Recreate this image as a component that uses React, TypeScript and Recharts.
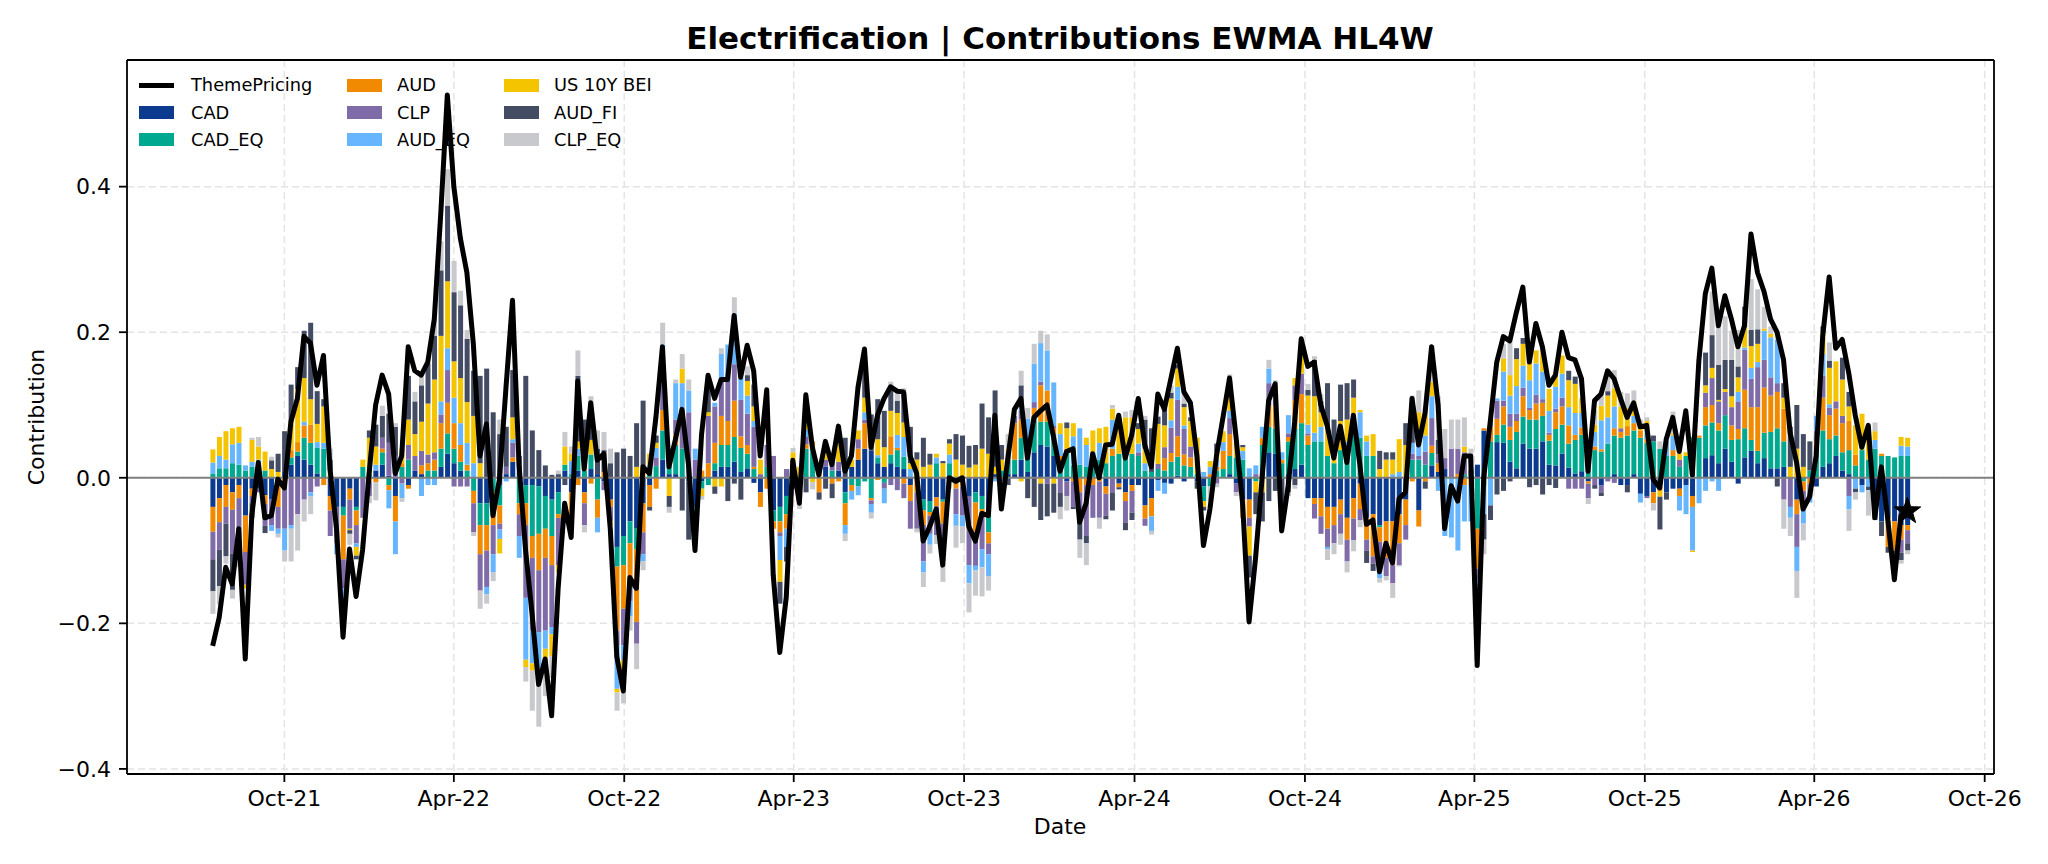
import React from "react";
import {
  ComposedChart,
  Bar,
  Line,
  XAxis,
  YAxis,
  CartesianGrid,
  ReferenceLine,
} from "recharts";

const FONT = '"DejaVu Sans", "Liberation Sans", Arial, sans-serif';
const W = 2048;
const H = 864;

// Weekly observations, first one on 16 Jul 2021
const START = Date.UTC(2021, 6, 16);
const DAY = 86400000;

const themePricing = [
  -.231, -.192, -.123, -.146, -.07, -.249, -.052, .021, -.055, -.052,
  -.002, -.014, .077, .109, .194, .185, .127, .168, .012, -.07,
  -.219, -.098, -.163, -.099, .006, .1, .141, .115, .006, .03,
  .18, .147, .141, .159, .218, .364, .526, .40, .329, .282,
  .183, .03, .074, -.052, -.002, .124, .244, .018, -.099, -.187,
  -.284, -.249, -.327, -.152, -.035, -.082, .133, .012, .103, .024,
  .033, -.07, -.246, -.293, -.137, -.152, .015, .006, .083, .18,
  .015, .053, .094, .018, -.1, .059, .141, .109, .135, .135,
  .223, .138, .182, .147, .03, .121, -.134, -.24, -.164, .024,
  -.035, .114, .042, .004, .05, .018, .071, .009, .03, .124,
  .177, .042, .086, .109, .125, .119, .118, .03, .006, -.087,
  -.067, -.043, -.12, 0, -.005, 0, -.067, -.087, -.049, -.052,
  .086, -.043, .027, .094, .109, .027, .083, .092, .1, .056,
  .009, .036, .04, -.061, -.035, .033, 0, .045, .046, .086,
  .027, .059, .109, .045, .015, .115, .094, .136, .178, .118,
  .103, .03, -.093, -.043, .03, .083, .137, .056, -.035, -.198,
  -.11, 0, .106, .129, -.073, -.011, .077, .191, .153, .159,
  .1, .071, .027, .071, .021, .086, .018, -.064, -.058, -.129,
  -.09, -.117, -.029, -.02, .109, .045, .089, .18, .1, -.07,
  -.011, -.032, .03, .03, -.258, 0, .077, .159, .194, .188,
  .227, .262, .159, .212, .18, .127, .141, .2, .165, .162,
  .136, .009, .106, .115, .147, .136, .109, .083, .103, .07,
  .072, -.002, -.014, .053, .083, .036, .092, .004, .16, .253,
  .288, .209, .25, .218, .18, .209, .335, .282, .256, .218,
  .2, .162, .062, .021, -.043, -.026, .03, .194, .276, .178,
  .19, .144, .086, .042, .072, -.055, .015, -.058, -.14, -.052,
  -.046,
];

const cad = [
  -.04, -.028, -.01, -.02, -.01, -.052, -.015, -.015, -.024, -.03,
  -.01, .008, .018, .03, .025, .018, .006, 0, -.025, -.04,
  -.04, -.015, -.04, 0, 0, .01, .018, .003, -.025, 0,
  -.01, .01, .005, 0, 0, .015, .033, .02, .01, 0,
  0, -.035, -.035, 0, -.01, .005, .022, 0, -.01, -.01,
  -.012, -.025, -.03, -.02, .01, -.02, .01, -.02, .012, .005,
  -.005, -.03, -.095, -.08, -.06, -.07, -.035, -.01, 0, .025,
  .005, .005, 0, -.005, -.04, -.005, 0, .01, .015, .015,
  .022, .008, .013, -.007, -.02, 0, -.045, -.04, -.025, -.005,
  0, 0, 0, 0, .015, 0, .01, -.02, .015, .025,
  .04, .037, .02, .015, .02, .015, .012, -.01, 0, -.03,
  -.032, -.027, -.03, 0, -.005, 0, -.025, -.02, -.025, -.05,
  .005, 0, .005, .005, .025, .008, .035, .045, .043, .03,
  0, -.005, 0, 0, 0, 0, 0, -.012, 0, -.008,
  -.02, -.01, -.01, -.038, -.028, -.003, -.007, -.008, .003, -.005,
  0, -.005, -.012, 0, 0, 0, .005, -.008, -.03, -.03,
  0, 0, .035, .033, 0, .005, .012, .018, -.028, -.028,
  -.028, -.04, -.04, -.03, -.055, -.028, -.008, -.055, -.05, -.065,
  -.06, -.06, -.05, -.03, 0, -.045, 0, .017, .008, .012,
  0, 0, 0, 0, .018, .065, 0, .049, .048, .022,
  .013, .047, .04, .04, .05, .018, .017, .033, .014, .006,
  .009, -.005, 0, -.01, 0, .005, -.01, -.01, .005, -.022,
  -.025, -.02, -.01, -.02, -.015, -.015, -.01, -.025, 0, .027,
  .031, .02, .04, .022, -.008, .028, .037, .02, .027, .013,
  .013, .015, 0, -.03, 0, 0, -.012, .015, .02, .03,
  .01, .005, 0, -.01, 0, -.03, -.06, -.055, -.06, -.065,
  -.065,
];

const cadEq = [
  .006, .013, .013, .02, .018, .01, .015, .01, .01, 0,
  0, 0, .01, .006, .03, .03, .035, .04, 0, 0,
  -.012, 0, -.005, .015, .005, 0, .017, -.01, 0, .015,
  .025, 0, 0, .01, .01, .025, .028, .02, .012, .01,
  -.018, -.03, -.03, -.02, -.028, 0, 0, -.035, -.025, -.07,
  -.065, -.045, -.05, -.03, .008, .005, .02, .01, .02, -.03,
  0, 0, -.027, -.04, -.03, -.028, 0, .01, .016, .04,
  .01, .04, .04, 0, -.02, -.01, -.01, .01, .03, .03,
  .034, .033, .02, .012, 0, .015, -.015, -.02, -.025, 0,
  -.008, .04, .04, 0, 0, .01, 0, -.015, -.01, -.012,
  -.005, -.028, .008, -.007, .012, .023, .017, 0, 0, -.015,
  -.015, .02, -.003, .02, 0, 0, 0, -.014, -.018, -.025,
  0, .01, .02, .02, .03, .023, .048, .032, .034, .03,
  .02, .035, .017, .018, .015, .015, .025, .02, .03, .033,
  .033, .033, .03, .01, .008, .012, .01, .022, .026, .017,
  .015, .005, -.02, -.012, .01, .012, .025, .028, .025, 0,
  -.005, .045, .035, .035, .02, .045, .055, .057, .045, .05,
  .05, .03, .02, .038, .035, .06, .055, .03, .03, -.003,
  0, 0, 0, 0, .025, .025, .018, .017, 0, 0,
  0, 0, .005, 0, -.07, -.01, .05, .01, .025, .03,
  .05, .037, .04, .04, .035, .033, .05, .04, .033, .046,
  .05, .018, .038, .036, .047, .053, .055, .058, .06, .055,
  .048, .05, .04, .03, .03, .015, .03, .056, .055, .045,
  .045, .045, .046, .03, .053, .04, .015, .017, .035, .05,
  .055, .035, 0, 0, -.005, .01, .04, .05, .033, .028,
  .025, .033, .017, .038, .025, .04, .03, .03, .028, .03,
  .03,
];

const aud = [
  -.034, -.033, -.03, -.024, -.018, -.05, -.01, .008, -.012, 0,
  -.03, -.01, .01, .013, .017, .025, 0, -.01, -.02, 0,
  -.06, -.015, -.02, 0, -.005, -.006, .005, -.007, -.035, .005,
  -.005, 0, .012, .01, .015, .035, .042, .035, .023, .008,
  -.017, -.04, -.035, -.045, -.025, 0, .006, -.015, -.03, -.03,
  -.05, -.04, -.04, -.005, 0, -.035, -.01, -.015, -.008, -.025,
  .008, -.01, -.088, -.06, -.05, -.1, -.04, -.03, -.015, .028,
  0, .015, 0, 0, -.01, .01, .02, .028, .04, .033,
  .05, .016, .012, .003, -.02, -.015, -.01, -.015, -.02, 0,
  0, .006, .01, -.02, 0, -.008, -.005, -.03, -.008, .015,
  .035, -.003, -.003, 0, .025, .003, -.008, -.022, -.02, -.02,
  -.005, -.012, -.03, 0, -.01, -.012, 0, -.04, -.01, -.015,
  0, 0, .005, .05, .025, .02, .013, .05, .043, .008,
  .01, .005, -.005, -.02, -.01, -.01, -.005, -.01, .01, -.005,
  -.012, -.008, 0, -.018, -.025, 0, .017, .012, .028, .015,
  .013, 0, 0, .005, .005, .025, .03, 0, -.025, -.025,
  0, .01, .03, .03, .005, .006, .04, .04, .013, -.008,
  -.025, -.03, -.025, -.02, -.03, -.028, -.035, -.03, -.058, -.02,
  -.05, -.06, -.04, -.035, -.005, -.022, -.005, .01, .012, 0,
  0, .005, -.01, -.01, -.055, .003, .02, .022, .025, .018,
  .015, .028, .013, .022, .018, .008, .023, .025, .025, .007,
  .01, -.003, .005, .003, 0, .01, .008, .013, .01, .01,
  .005, -.015, -.008, 0, .008, -.01, 0, -.015, .003, .025,
  .024, .01, 0, .02, .014, .053, .045, .06, .062, .05,
  .05, .045, 0, -.02, -.013, -.008, .01, .045, .033, .037,
  .04, .04, .015, 0, 0, -.01, .003, -.04, -.04, -.02,
  -.007,
];

const clp = [
  -.038, -.038, -.023, -.06, -.06, -.045, -.01, -.005, -.03, -.035,
  -.03, -.06, -.065, -.05, -.03, -.02, -.012, 0, -.035, -.05,
  -.04, -.04, -.025, -.055, -.02, 0, .015, .045, .03, -.008,
  .02, .02, .02, .012, .01, .012, .045, -.012, -.012, -.012,
  -.04, -.05, -.05, -.04, -.008, .01, .02, -.03, -.1, -.1,
  -.085, -.1, -.085, -.065, 0, 0, 0, -.03, 0, 0,
  -.012, -.02, -.02, -.05, -.03, -.03, -.03, 0, .012, .06,
  0, .02, .05, .09, .025, 0, .065, .05, .05, .055,
  .05, .05, .043, .055, .005, .03, .03, -.005, .012, .01,
  0, .01, 0, 0, .01, .01, .012, 0, 0, .013,
  .005, -.005, 0, -.008, -.01, -.017, -.02, -.038, -.05, -.05,
  -.025, -.04, -.04, 0, -.035, -.04, -.095, -.047, -.045, -.015,
  0, -.005, 0, .01, .012, 0, .008, .005, -.008, .003,
  -.02, -.02, -.035, -.035, -.07, -.045, -.05, -.03, -.02, 0,
  -.03, -.03, .005, -.01, 0, .007, .015, .035, .05, .035,
  .015, 0, 0, 0, -.008, 0, .022, -.012, 0, -.012,
  .005, 0, .03, .01, 0, .005, .02, .028, .003, -.02,
  -.024, -.025, -.025, -.027, -.03, -.03, -.015, -.015, -.01, -.02,
  -.025, -.025, -.03, -.02, .008, .005, .018, .038, .012, .015,
  .04, .035, .03, 0, -.015, 0, .01, .025, .008, .018,
  .01, .012, .003, .012, .005, .003, .005, .012, -.015, -.015,
  -.015, -.02, -.01, -.01, -.005, -.007, .005, 0, 0, 0,
  -.003, 0, 0, 0, 0, .01, 0, 0, 0, .02,
  .037, .03, .032, .025, .038, .055, .039, .055, .038, .025,
  .012, -.03, -.04, -.045, -.025, -.018, .015, .03, .01, .01,
  .01, -.025, 0, 0, 0, 0, 0, 0, 0, -.018,
  -.018,
];

const audEq = [
  .015, .017, .012, .026, .03, .007, .007, .007, 0, -.008,
  -.007, -.03, -.005, 0, .005, -.005, .008, .008, 0, -.015,
  -.02, 0, -.005, 0, 0, .008, 0, -.025, -.045, -.02,
  0, 0, -.025, -.01, -.01, .018, .03, .035, .03, .03,
  .02, 0, -.01, -.025, -.013, -.005, .005, -.03, -.085, -.045,
  -.05, -.025, -.01, 0, 0, .018, .01, 0, 0, -.02,
  0, 0, -.06, -.02, -.02, 0, -.01, .008, .013, .03,
  .013, .05, .04, .03, .015, 0, 0, .005, .035, .05,
  .07, .03, .025, .008, 0, 0, 0, -.033, -.025, 0,
  0, .01, 0, 0, 0, .005, 0, -.012, -.012, -.012,
  .01, -.012, .003, -.02, 0, .018, .027, .012, 0, -.015,
  -.015, .008, 0, .012, -.016, -.015, -.025, -.006, -.025, -.03,
  -.005, -.005, .005, 0, .005, .03, .053, .053, .055, .06,
  .03, 0, .04, .05, .03, .02, .023, 0, .04, 0,
  0, 0, .012, .01, -.02, -.015, -.015, .01, .018, .005,
  0, 0, .008, .01, .01, .012, .01, 0, .012, .013,
  .012, .015, .02, .01, .01, .025, 0, 0, .012, .012,
  .02, -.003, 0, 0, .015, .015, .035, .02, 0, -.03,
  0, .005, .008, 0, .015, .02, .022, .03, -.018, -.08,
  -.082, -.1, -.05, -.05, -.02, -.04, -.038, .003, .04, .025,
  .038, .03, .038, .043, .038, .03, .03, .033, .025, .03,
  .02, 0, .02, .04, .036, .03, 0, 0, .01, -.012,
  .02, 0, 0, .02, .02, -.02, -.04, -.06, -.035, -.018,
  -.005, -.018, 0, 0, .013, .003, .015, .007, .04, .055,
  .06, 0, -.015, -.033, -.02, -.008, .02, .03, .005, 0,
  0, -.018, -.015, -.01, -.012, .012, 0, 0, 0, .014,
  .013,
];

const us10yBei = [
  .018, .026, .039, .022, .022, -.005, .03, .018, .026, .012,
  .008, 0, .04, .073, .06, .035, .025, .05, .01, 0,
  0, -.002, -.012, .01, .05, .025, 0, 0, 0, .02,
  .035, .03, .04, .07, .1, .09, .092, .05, .062, .056,
  .065, .02, 0, 0, -.02, 0, .03, 0, -.01, -.01,
  -.02, -.035, -.03, -.01, .025, .01, .01, .04, .02, 0,
  0, -.005, -.005, -.04, 0, .015, .016, .015, .007, 0,
  -.025, 0, .02, 0, 0, -.01, .005, -.012, -.012, 0,
  0, 0, .02, .02, .02, 0, 0, -.03, 0, .025,
  .015, .03, -.006, .008, .01, 0, .025, 0, .01, .012,
  .02, 0, .022, .027, .035, .03, .02, .008, .025, .015,
  .018, .005, .02, .015, .025, .018, .014, .018, .04, .033,
  .01, .015, .005, 0, -.005, 0, 0, -.008, 0, -.008,
  .015, .028, .018, 0, .01, .03, .02, .05, .015, .04,
  .05, .05, .02, .02, 0, .055, .03, .03, .025, .025,
  .035, .05, -.008, .008, .01, .015, .03, .02, .005, -.04,
  -.015, -.02, 0, .008, 0, 0, .01, .025, .04, .05,
  .02, .04, .01, .04, .03, .035, .003, .008, .03, .012,
  .025, .02, .045, .045, 0, .04, .028, .02, 0, 0,
  0, 0, .008, 0, -.01, 0, 0, 0, .018, .028,
  .037, .03, .025, .018, .03, .03, .015, .025, .037, .04,
  .02, 0, .01, .02, .03, .025, .03, .025, .02, .005,
  .005, 0, -.008, 0, .003, .008, .005, -.002, 0, .01,
  .014, .002, .004, .015, .02, .028, .03, .025, .003, .005,
  0, .015, .015, .04, .015, 0, 0, .03, .05, .055,
  .05, .02, .04, .05, .03, .012, 0, 0, 0, .012,
  .012,
];

const audFi = [
  -.044, -.05, -.045, -.05, -.025, 0, -.02, 0, -.01, .012,
  .025, .056, .05, .03, .065, .105, .045, .01, .015, 0,
  0, -.005, -.005, 0, .01, .03, .03, .04, .04, 0,
  .06, .045, .05, .055, .06, .09, .104, .095, .1, .087,
  .062, .12, .15, .09, .06, .055, .065, .03, .14, .065,
  .038, .017, .004, .005, -.01, 0, .09, .03, .03, .035,
  .03, .02, .035, .04, .03, .06, .09, -.005, .01, 0,
  -.015, 0, -.045, -.08, -.015, 0, .04, -.01, 0, -.032,
  -.008, -.03, .008, .03, 0, 0, 0, -.03, -.02, -.01,
  -.02, -.02, 0, -.01, -.015, -.02, 0, .055, 0, 0,
  .05, .05, .055, .05, .03, .017, .04, .05, .01, .04,
  .015, 0, .003, .006, .035, .04, .03, .027, .062, .05,
  .105, .02, -.01, 0, .03, -.028, -.04, -.05, -.045, -.04,
  -.02, .008, -.003, -.03, -.01, 0, 0, -.005, -.025, -.003,
  -.01, -.01, .008, .04, .06, .01, .025, .008, .005, .005,
  .005, -.01, -.005, 0, .012, 0, .01, 0, .003, -.03,
  -.03, -.04, -.032, -.018, -.05, -.02, -.01, 0, .008, .05,
  .015, .06, .05, .05, .05, .025, 0, -.017, -.01, .025,
  .01, .01, 0, .03, .035, 0, -.01, 0, .02, 0,
  0, 0, 0, .01, -.01, -.035, -.02, -.023, -.018, -.005,
  .015, .008, -.013, -.01, -.023, -.01, -.014, 0, .013, .01,
  0, 0, -.005, -.005, .006, 0, 0, -.01, 0, 0,
  0, .008, -.045, -.01, 0, 0, 0, 0, 0, .045,
  .045, .048, .04, .05, .015, .028, .022, .02, 0, 0,
  -.012, .02, .055, .06, .045, .04, 0, .008, .01, 0,
  .03, .02, -.005, 0, -.005, -.018, -.02, -.008, -.015, -.01,
  -.01,
];

const clpEq = [
  -.031, -.025, -.01, -.012, -.01, 0, .003, .013, 0, .005,
  -.005, -.015, -.045, -.05, -.03, -.025, 0, 0, .015, 0,
  0, -.015, 0, 0, -.01, -.025, .014, 0, .005, -.005,
  0, .013, .012, 0, .025, .04, .05, .043, .02, .012,
  -.005, -.025, -.013, -.012, .02, 0, 0, 0, -.02, -.055,
  -.06, -.03, -.03, .005, .02, .01, .035, -.01, .03, .025,
  .025, .02, -.025, -.02, -.02, -.035, -.012, 0, 0, .03,
  -.008, .005, .02, .015, -.005, -.005, 0, 0, .008, 0,
  .022, 0, .012, 0, 0, 0, 0, 0, 0, .006,
  -.015, .01, -.01, 0, 0, 0, 0, -.01, 0, 0,
  0, -.008, 0, 0, .01, .01, .007, 0, -.005, -.02,
  -.012, -.012, -.04, -.015, -.03, -.023, -.04, -.035, -.04, -.02,
  0, -.033, .02, .005, .02, .015, .027, .017, .022, 0,
  -.017, -.02, 0, -.025, -.03, 0, -.015, 0, .005, .01,
  .008, .01, 0, .005, -.005, 0, 0, .01, .01, .015,
  0, 0, 0, -.02, -.005, 0, .01, -.005, 0, 0,
  0, 0, .012, .008, -.005, -.005, -.005, .005, .008, .005,
  .01, -.015, -.015, -.015, -.015, -.015, -.01, 0, 0, -.006,
  -.006, -.02, -.002, 0, .03, .03, .01, .05, .06, .04,
  .04, .04, .04, .03, 0, -.02, 0, 0, .02, .045,
  0, 0, 0, 0, 0, 0, 0, 0, 0, 0,
  0, -.008, .02, .02, .03, .025, .02, .02, .015, .01,
  .005, -.01, .01, 0, .03, 0, 0, 0, 0, 0,
  .06, .07, .06, .04, .05, 0, .07, .055, .03, .01,
  .01, -.04, -.025, -.037, -.023, 0, 0, 0, .025, 0,
  0, -.03, -.01, 0, -.035, .012, 0, 0, -.01, -.005,
  -.005,
];

// Stacking order follows the legend (bottom of each stack first)
const SERIES = [
  { key: "CAD", values: cad, color: "#0b3a8f" },
  { key: "CAD_EQ", values: cadEq, color: "#00a88f" },
  { key: "AUD", values: aud, color: "#f28a00" },
  { key: "CLP", values: clp, color: "#7f6ba8" },
  { key: "AUD_EQ", values: audEq, color: "#66b5ff" },
  { key: "US 10Y BEI", values: us10yBei, color: "#f5c400" },
  { key: "AUD_FI", values: audFi, color: "#444c64" },
  { key: "CLP_EQ", values: clpEq, color: "#c8c9cd" },
];

const data = themePricing.map((v, i) => {
  const row: Record<string, number> = { t: START + i * 7 * DAY, ThemePricing: v };
  SERIES.forEach((s) => {
    row[s.key] = s.values[i];
  });
  return row;
});

const X_DOMAIN = [Date.UTC(2021, 3, 15), Date.UTC(2026, 9, 11)];
const X_TICKS = [
  Date.UTC(2021, 9, 1),
  Date.UTC(2022, 3, 1),
  Date.UTC(2022, 9, 1),
  Date.UTC(2023, 3, 1),
  Date.UTC(2023, 9, 1),
  Date.UTC(2024, 3, 1),
  Date.UTC(2024, 9, 1),
  Date.UTC(2025, 3, 1),
  Date.UTC(2025, 9, 1),
  Date.UTC(2026, 3, 1),
  Date.UTC(2026, 9, 1),
];
const Y_DOMAIN = [-0.407, 0.574];
const Y_TICKS = [-0.4, -0.2, 0, 0.2, 0.4];

const MONTHS = ["Jan", "Feb", "Mar", "Apr", "May", "Jun", "Jul", "Aug", "Sep", "Oct", "Nov", "Dec"];
const fmtDate = (t: number) => {
  const d = new Date(t);
  return `${MONTHS[d.getUTCMonth()]}-${String(d.getUTCFullYear()).slice(2)}`;
};
const fmtY = (v: number) => (v < 0 ? "\u2212" : "") + Math.abs(v).toFixed(1);

const LAST = themePricing.length - 1;

// Star marker on the latest ThemePricing point
const EndStar = (props: any) => {
  const { cx, cy, index } = props;
  if (index !== LAST || cx == null || cy == null) return <g key={`dot-${index}`} />;
  const pts: string[] = [];
  for (let k = 0; k < 10; k++) {
    const r = k % 2 === 0 ? 14 : 5.6;
    const a = -Math.PI / 2 + (k * Math.PI) / 5;
    pts.push(`${cx + r * Math.cos(a)},${cy + r * Math.sin(a)}`);
  }
  return <polygon key="end-star" points={pts.join(" ")} fill="#000" stroke="#000" strokeWidth={1} />;
};

const LEGEND_COLS = [
  { handleX: 139, textX: 191, items: ["ThemePricing", "CAD", "CAD_EQ"] },
  { handleX: 347, textX: 397, items: ["AUD", "CLP", "AUD_EQ"] },
  { handleX: 504, textX: 554, items: ["US 10Y BEI", "AUD_FI", "CLP_EQ"] },
];
const LEGEND_ROWS = [85, 112.5, 139.5];
const colorOf = (name: string) => SERIES.find((s) => s.key === name)?.color ?? "#000";

const tickStyle = { fill: "#000", fontSize: 22, fontFamily: FONT };
const spine = { stroke: "#000", strokeWidth: 1.8 };

export default function App() {
  return (
    <div
      style={{
        position: "absolute",
        left: 0,
        top: 0,
        width: W,
        height: H,
        background: "#fff",
        fontFamily: FONT,
        overflow: "hidden",
      }}
    >
      <ComposedChart
        width={W}
        height={H}
        data={data}
        stackOffset="sign"
        margin={{ top: 60, right: 54, bottom: 30, left: 47 }}
      >
        <CartesianGrid stroke="#e4e4e4" strokeWidth={1.5} strokeDasharray="7 4" />
        <XAxis
          dataKey="t"
          type="number"
          scale="linear"
          domain={X_DOMAIN}
          ticks={X_TICKS}
          tickFormatter={fmtDate}
          allowDataOverflow
          height={60}
          tick={tickStyle}
          tickSize={8}
          tickMargin={8}
          axisLine={spine}
          tickLine={spine}
          interval={0}
        />
        <YAxis
          type="number"
          domain={Y_DOMAIN}
          ticks={Y_TICKS}
          tickFormatter={fmtY}
          allowDataOverflow
          width={80}
          tick={tickStyle}
          tickSize={8}
          tickMargin={8}
          axisLine={spine}
          tickLine={spine}
          interval={0}
        />
        {SERIES.map((s) => (
          <Bar
            key={s.key}
            dataKey={s.key}
            stackId="contrib"
            fill={s.color}
            barSize={5}
            isAnimationActive={false}
          />
        ))}
        <ReferenceLine y={0} stroke="#808080" strokeWidth={2} />
        <ReferenceLine y={Y_DOMAIN[1]} stroke="#000" strokeWidth={1.8} />
        <ReferenceLine x={X_DOMAIN[1]} stroke="#000" strokeWidth={1.8} />
        <Line
          dataKey="ThemePricing"
          type="linear"
          stroke="#000"
          strokeWidth={5}
          strokeLinejoin="round"
          dot={EndStar}
          activeDot={false}
          isAnimationActive={false}
        />
      </ComposedChart>

      {/* Title and axis labels */}
      <div
        style={{
          position: "absolute",
          left: 0,
          width: 2120,
          top: 18,
          textAlign: "center",
          fontSize: 31,
          fontWeight: "bold",
          lineHeight: "40px",
          color: "#000",
        }}
      >
        Electrification | Contributions EWMA HL4W
      </div>
      <div
        style={{
          position: "absolute",
          left: 0,
          width: 2120,
          top: 813,
          textAlign: "center",
          fontSize: 22,
          lineHeight: "28px",
          color: "#000",
        }}
      >
        Date
      </div>
      <div
        style={{
          position: "absolute",
          left: 37,
          top: 417,
          transform: "translate(-50%, -50%) rotate(-90deg)",
          fontSize: 22,
          lineHeight: "28px",
          whiteSpace: "nowrap",
          color: "#000",
        }}
      >
        Contribution
      </div>

      {/* Legend */}
      {LEGEND_COLS.map((col) =>
        col.items.map((name, r) => {
          const cy = LEGEND_ROWS[r];
          const isLine = name === "ThemePricing";
          return (
            <React.Fragment key={name}>
              <div
                style={{
                  position: "absolute",
                  left: col.handleX,
                  top: isLine ? cy - 2.5 : cy - 6.5,
                  width: 35,
                  height: isLine ? 5 : 13,
                  background: isLine ? "#000" : colorOf(name),
                }}
              />
              <div
                style={{
                  position: "absolute",
                  left: col.textX,
                  top: cy - 12,
                  fontSize: 17.8,
                  lineHeight: "24px",
                  whiteSpace: "nowrap",
                  color: "#000",
                }}
              >
                {name}
              </div>
            </React.Fragment>
          );
        })
      )}
    </div>
  );
}
